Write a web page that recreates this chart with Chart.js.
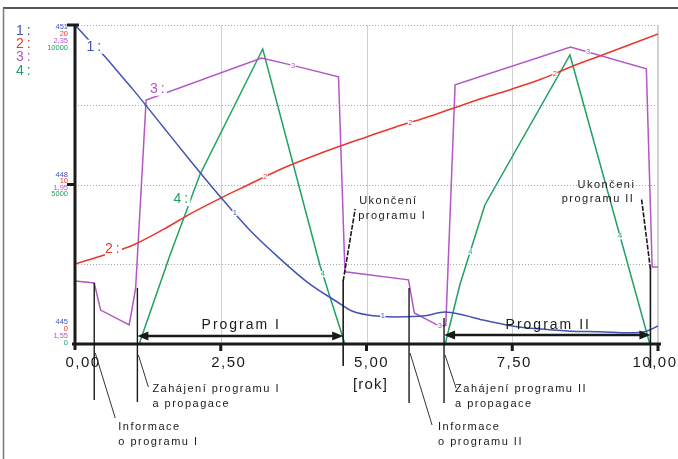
<!DOCTYPE html>
<html>
<head>
<meta charset="utf-8">
<script src="https://cdn.jsdelivr.net/npm/chart.js@4/dist/chart.umd.min.js"></script>
<style>
  html, body { margin: 0; padding: 0; background: #fff; overflow: hidden; }
  #wrap { position: relative; width: 678px; height: 459px; background: #fff; }
</style>
</head>
<body>
<div id="wrap"><canvas id="c" width="678" height="459"></canvas></div>
<script>
// Time axis [rok]
const xTickValues = [0, 2.5, 5, 7.5, 10];
const xTickLabels = ['0,00', '2,50', '5,00', '7,50', '10,00'];

// Stacked scale labels for the four series (bottom, middle, top)
const y1Labels = ['445', '448', '451'];
const y2Labels = ['0', '10', '20'];
const y3Labels = ['1,55', '1,95', '2,35'];
const y4Labels = ['0', '5000', '10000'];

// 1: (blue)
const s1Years  = [0, 0.25, 0.5, 0.75, 1, 1.5, 2, 2.5, 3, 3.5, 4, 4.5, 4.75, 5, 5.5, 6, 6.35, 6.6, 7, 7.5, 8, 8.5, 9, 9.5, 9.8, 10];
const s1Values = [451, 450.70, 450.42, 450.10, 449.78, 449.10, 448.42, 447.76, 447.14, 446.62, 446.15, 445.79, 445.62, 445.55, 445.51, 445.53, 445.60, 445.56, 445.45, 445.34, 445.28, 445.24, 445.23, 445.21, 445.24, 445.34];

// 2: (red)
const s2Years  = [0, 0.5, 1, 1.5, 2, 2.5, 3, 3.5, 4, 4.5, 5, 5.5, 6, 6.5, 7, 7.5, 8, 8.5, 9, 9.5, 10];
const s2Values = [5.02, 5.58, 6.21, 7.15, 8.21, 9.15, 10.03, 10.91, 11.66, 12.35, 12.98, 13.61, 14.17, 14.80, 15.42, 15.99, 16.61, 17.37, 18.06, 18.75, 19.44];

// 3: (purple)
const s3Years  = [0, 0.33, 0.44, 0.93, 1.04, 1.22, 3.2, 3.7, 4.52, 4.63, 5.72, 5.82, 6.25, 6.36, 6.52, 8.5, 9.8, 9.9, 10];
const s3Values = [1.708, 1.703, 1.635, 1.598, 1.690, 2.162, 2.267, 2.250, 2.220, 1.731, 1.711, 1.628, 1.595, 1.597, 2.200, 2.295, 2.240, 1.743, 1.743];

// 4: (green)
const s4Years  = [0, 1.1, 1.63, 2.14, 3.22, 4.2, 4.63, 6.35, 6.6, 7.03, 8.49, 9.86, 10];
const s4Values = [0, 0, 2790, 5298, 9248, 2477, 0, 0, 1850, 4358, 9060, 0, 0];

// Program milestones [rok]
const infoI = 0.33, startI = 1.07, endI = 4.6;
const infoII = 5.73, startII = 6.33, endII = 9.87;

const COL = { blue: '#4353b4', red: '#e8382c', purple: '#b356c6', green: '#21a063', ink: '#1a1a1a' };
const FONT = '"Liberation Sans", Arial, sans-serif';

function pts(xs, ys) { return xs.map((x, i) => ({ x: x, y: ys[i] })); }
function valueAt(ts, vs, t) {
  for (let i = 1; i < ts.length; i++) {
    if (t <= ts[i]) {
      const f = (t - ts[i - 1]) / (ts[i] - ts[i - 1]);
      return vs[i - 1] + f * (vs[i] - vs[i - 1]);
    }
  }
  return vs[vs.length - 1];
}
function text(ctx, s, x, y, size, color, align, spacing, baseline) {
  ctx.save();
  ctx.font = size + 'px ' + FONT;
  ctx.fillStyle = color;
  ctx.textAlign = align || 'left';
  ctx.textBaseline = baseline || 'alphabetic';
  if ('letterSpacing' in ctx) ctx.letterSpacing = (spacing || 0) + 'px';
  ctx.fillText(s, x, y);
  ctx.restore();
}
function seg(ctx, x1, y1, x2, y2, w, color, dash) {
  ctx.save();
  ctx.strokeStyle = color; ctx.lineWidth = w;
  ctx.setLineDash(dash || []);
  ctx.beginPath(); ctx.moveTo(x1, y1); ctx.lineTo(x2, y2); ctx.stroke();
  ctx.restore();
}
function doubleArrow(ctx, x1, x2, y) {
  const L = 11, H = 4.5;
  seg(ctx, x1 + L - 1, y, x2 - L + 1, y, 2.6, COL.ink);
  ctx.save();
  ctx.fillStyle = COL.ink;
  ctx.beginPath(); ctx.moveTo(x1, y); ctx.lineTo(x1 + L, y - H); ctx.lineTo(x1 + L, y + H); ctx.closePath(); ctx.fill();
  ctx.beginPath(); ctx.moveTo(x2, y); ctx.lineTo(x2 - L, y - H); ctx.lineTo(x2 - L, y + H); ctx.closePath(); ctx.fill();
  ctx.restore();
}

const decor = {
  id: 'decor',
  beforeDatasetsDraw(chart) {
    const ctx = chart.ctx, x = chart.scales.x, y4 = chart.scales.y4, a = chart.chartArea;
    // dotted horizontal grid
    [2500, 5000, 7500, 10000].forEach(v => {
      const py = Math.round(y4.getPixelForValue(v)) + 0.5;
      seg(ctx, a.left, py, a.right, py, 1, '#a9a9a9', [1, 2]);
    });
    // vertical grid
    [2.5, 5, 7.5].forEach(v => {
      const px = Math.round(x.getPixelForValue(v)) + 0.5;
      seg(ctx, px, a.top, px, a.bottom, 1, '#cfcfcf');
    });
    const rx = x.getPixelForValue(10);
    seg(ctx, rx, a.top, rx, a.bottom, 1.5, '#c2c2c2');
  },
  afterDatasetsDraw(chart) {
    const ctx = chart.ctx, s = chart.scales, a = chart.chartArea;
    const X = v => s.x.getPixelForValue(v);
    const left = X(0), bottom = a.bottom, top = a.top;

    // figure frame
    seg(ctx, 3, 8, 678, 8, 2, '#555');
    seg(ctx, 3.5, 8, 3.5, 459, 1.5, '#777');

    // axes
    seg(ctx, left, top - 1, left, bottom + 6, 3, COL.ink);
    seg(ctx, left - 3, bottom, X(10) + 3, bottom, 3, COL.ink);
    seg(ctx, left - 8, top, left + 4, top, 3, COL.ink);
    const midY = s.y4.getPixelForValue(5000);
    seg(ctx, left - 8, midY, left, midY, 3, COL.ink);
    xTickValues.forEach(v => { if (v > 0) seg(ctx, X(v), bottom, X(v), bottom + 7, 3, COL.ink); });

    // x tick labels
    const shift = [8, 8, 5, 2, -3];
    xTickValues.forEach((v, i) => text(ctx, xTickLabels[i], X(v) + shift[i], 367, 15, COL.ink, 'center', 1.5));
    text(ctx, '[rok]', X(5) + 4, 389, 15, COL.ink, 'center', 1.2);

    // stacked value labels per series
    const groups = [
      { py: top, offs: [2, 9, 16, 23] },
      { py: midY, offs: [-10, -3.5, 3, 9.5] },
      { py: bottom, offs: [-22, -15, -8, -1.5] }
    ];
    const gi = [2, 1, 0];
    groups.forEach((g, k) => {
      const idx = gi[k];
      const labs = [y1Labels[idx], y2Labels[idx], y3Labels[idx], y4Labels[idx]];
      const cols = [COL.blue, COL.red, COL.purple, COL.green];
      labs.forEach((l, j) => text(ctx, l, 68, g.py + g.offs[j], 7.5, cols[j], 'right', 0, 'middle'));
    });

    // series keys at the top left
    ['1:', '2:', '3:', '4:'].forEach((l, j) => {
      const cols = [COL.blue, COL.red, COL.purple, COL.green];
      text(ctx, l, 16, [35, 47.5, 60.5, 75][j], 14, cols[j], 'left', 3);
    });

    // curve keys placed beside their curves
    const bigKeys = [
      { s: '1:', t: 0.33, ts: s1Years, vs: s1Values, ax: 'y1', c: COL.blue, dx: 0, dy: 1 },
      { s: '2:', t: 0.65, ts: s2Years, vs: s2Values, ax: 'y2', c: COL.red, dx: 0, dy: -3 },
      { s: '3:', t: 1.42, ts: s3Years, vs: s3Values, ax: 'y3', c: COL.purple, dx: 0, dy: -7 },
      { s: '4:', t: 1.84, ts: s4Years, vs: s4Values, ax: 'y4', c: COL.green, dx: -1, dy: -23 }
    ];
    bigKeys.forEach(k => {
      const px = X(k.t) + k.dx, py = s[k.ax].getPixelForValue(valueAt(k.ts, k.vs, k.t)) + k.dy;
      ctx.save(); ctx.fillStyle = '#fff'; ctx.fillRect(px - 8, py - 7, 17, 14); ctx.restore();
      text(ctx, k.s, px + 1, py, 14, k.c, 'center', 3, 'middle');
    });

    // small series numbers along the curves
    const marks = [
      ['1', s1Years, s1Values, 'y1', COL.blue, [2.74, 5.28]],
      ['2', s2Years, s2Values, 'y2', COL.red, [3.26, 5.75, 8.23]],
      ['3', s3Years, s3Values, 'y3', COL.purple, [3.74, 6.26, 8.8]],
      ['4', s4Years, s4Values, 'y4', COL.green, [4.25, 6.78, 9.35]]
    ];
    marks.forEach(m => m[5].forEach(t => {
      const px = X(t), py = s[m[3]].getPixelForValue(valueAt(m[1], m[2], t));
      ctx.save(); ctx.fillStyle = '#fff'; ctx.fillRect(px - 2.5, py - 3, 5, 6); ctx.restore();
      text(ctx, m[0], px, py, 7.5, m[4], 'center', 0, 'middle');
    }));

    // milestone markers
    seg(ctx, X(infoI), 283, X(infoI), 400, 1.4, COL.ink);
    seg(ctx, X(startI), 288, X(startI), 402, 1.4, COL.ink);
    seg(ctx, X(endI), 280, X(endI), 366, 1.6, COL.ink);
    seg(ctx, X(infoII), 288, X(infoII), 403, 1.4, COL.ink);
    seg(ctx, X(startII), 318, X(startII), 403, 1.4, COL.ink);
    seg(ctx, X(endII), 268, X(endII), 368, 1.6, COL.ink);

    // leaders to the notes
    seg(ctx, X(infoI) + 1, 353, X(infoI) + 21, 418, 1, '#333');
    seg(ctx, X(startI) + 1, 355, X(startI) + 11, 387, 1, '#333');
    seg(ctx, X(infoII) + 1, 353, X(infoII) + 23, 425, 1, '#333');
    seg(ctx, X(startII) + 1, 355, X(startII) + 12, 388, 1, '#333');
    seg(ctx, X(endI), 281, X(endI) + 12, 209, 1.6, COL.ink, [5, 1.5]);
    seg(ctx, X(endII), 269, X(endII) - 9, 198, 1.6, COL.ink, [5, 1.5]);

    // program spans
    doubleArrow(ctx, X(startI), X(endI), 336);
    doubleArrow(ctx, X(startII), X(endII), 335);
    text(ctx, 'Program I', (X(startI) + X(endI)) / 2 + 1, 329, 14, COL.ink, 'center', 2);
    text(ctx, 'Program II', (X(startII) + X(endII)) / 2 + 1, 329, 14, COL.ink, 'center', 2);

    // notes
    const n = 11, sp = 1.5;
    text(ctx, 'Zahájení programu I', X(startI) + 15, 392, n, COL.ink, 'left', sp);
    text(ctx, 'a propagace', X(startI) + 15, 407, n, COL.ink, 'left', sp);
    text(ctx, 'Informace', X(infoI) + 24, 430, n, COL.ink, 'left', sp);
    text(ctx, 'o programu I', X(infoI) + 24, 445, n, COL.ink, 'left', sp);
    text(ctx, 'Ukončení', X(endI) + 16, 203.5, n, COL.ink, 'left', sp);
    text(ctx, 'programu I', X(endI) + 15, 219, n, COL.ink, 'left', sp);
    text(ctx, 'Zahájení programu II', X(startII) + 11, 392, n, COL.ink, 'left', sp);
    text(ctx, 'a propagace', X(startII) + 11, 407, n, COL.ink, 'left', sp);
    text(ctx, 'Informace', X(infoII) + 29, 430, n, COL.ink, 'left', sp);
    text(ctx, 'o programu II', X(infoII) + 29, 445, n, COL.ink, 'left', sp);
    text(ctx, 'Ukončeni', X(endII) - 15, 188, n, COL.ink, 'right', sp);
    text(ctx, 'programu II', X(endII) - 16, 202, n, COL.ink, 'right', sp);
  }
};

new Chart(document.getElementById('c'), {
  type: 'line',
  data: {
    datasets: [
      { label: '1', data: pts(s1Years, s1Values), yAxisID: 'y1', borderColor: COL.blue, borderWidth: 1.5, pointRadius: 0, cubicInterpolationMode: 'monotone' },
      { label: '2', data: pts(s2Years, s2Values), yAxisID: 'y2', borderColor: COL.red, borderWidth: 1.5, pointRadius: 0, cubicInterpolationMode: 'monotone' },
      { label: '3', data: pts(s3Years, s3Values), yAxisID: 'y3', borderColor: COL.purple, borderWidth: 1.5, pointRadius: 0, tension: 0 },
      { label: '4', data: pts(s4Years, s4Values), yAxisID: 'y4', borderColor: COL.green, borderWidth: 1.5, pointRadius: 0, tension: 0 }
    ]
  },
  options: {
    responsive: false,
    animation: false,
    devicePixelRatio: 1,
    events: [],
    layout: { padding: { left: 75, top: 25, right: 20, bottom: 115 } },
    plugins: { legend: { display: false }, tooltip: { enabled: false } },
    scales: {
      x: { type: 'linear', min: 0, max: 10, display: false },
      y1: { type: 'linear', min: 445, max: 451, display: false },
      y2: { type: 'linear', min: 0, max: 20, display: false },
      y3: { type: 'linear', min: 1.55, max: 2.35, display: false },
      y4: { type: 'linear', min: 0, max: 10000, display: false }
    }
  },
  plugins: [decor]
});
</script>
</body>
</html>
